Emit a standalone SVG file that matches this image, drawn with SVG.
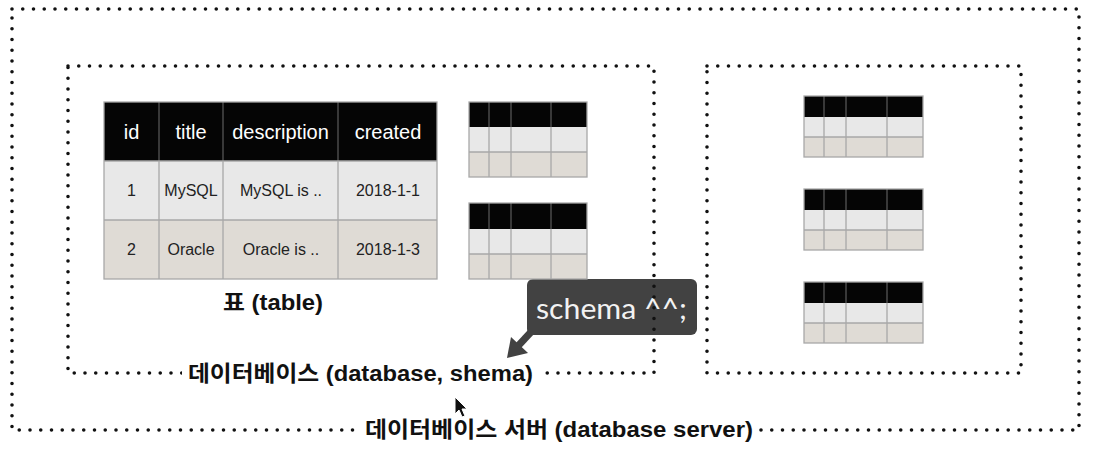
<svg xmlns="http://www.w3.org/2000/svg" width="1096" height="453" viewBox="0 0 1096 453">
<style>
.dot{fill:none;stroke:#111;stroke-width:3.6;stroke-linecap:round;stroke-dasharray:0 10.75}
.hd{fill:#050505}
.r1{fill:#e8e8e8}
.r2{fill:#dfdbd5}
.grid{fill:none;stroke:#a8a8a8;stroke-width:1.3}
.hgrid{stroke:#555;stroke-width:1.3}
.th{font-family:"Liberation Sans",Arial,sans-serif;font-size:20px;fill:#fff;text-anchor:middle}
.td{font-family:"Liberation Sans",Arial,sans-serif;font-size:16px;fill:#222;text-anchor:middle}
.lbl{font-family:"Liberation Sans","Noto Sans CJK KR",sans-serif;font-weight:bold;font-size:22px;fill:#111}
.mask{fill:#fff}
</style>

<g id="tooltip">
  <rect x="527" y="279" width="170" height="56" rx="6" fill="#424242"/>
  <text x="536" y="319" font-family="Lato,'Open Sans',sans-serif" font-size="28" fill="#f2f2f2" textLength="151" lengthAdjust="spacingAndGlyphs">schema ^^;</text>
</g>

<g id="server-box">
  <rect class="dot" x="12" y="9" width="1067" height="421"/>
</g>

<g id="database-box">
  <rect class="dot" x="68" y="66" width="586" height="307"/>
</g>

<g id="database-box-2">
  <rect class="dot" x="707" y="66" width="314" height="307"/>
</g>

<g id="main-table">
  <rect class="hd" x="104" y="102" width="333" height="59"/>
  <rect class="r1" x="104" y="161" width="333" height="59"/>
  <rect class="r2" x="104" y="220" width="333" height="59"/>
  <path class="grid hgrid" d="M159 102V161M223 102V161M338 102V161"/>
  <path class="grid" d="M104 161H437M104 220H437M159 161V279M223 161V279M338 161V279"/>
  <rect class="grid" x="104" y="102" width="333" height="177"/>
  <text class="th" x="131.5" y="139">id</text>
  <text class="th" x="191" y="139">title</text>
  <text class="th" x="280.5" y="139">description</text>
  <text class="th" x="388" y="139">created</text>
  <text class="td" x="131.5" y="196">1</text>
  <text class="td" x="191" y="196">MySQL</text>
  <text class="td" x="281" y="196">MySQL is ..</text>
  <text class="td" x="388" y="196">2018-1-1</text>
  <text class="td" x="131.5" y="255">2</text>
  <text class="td" x="191" y="255">Oracle</text>
  <text class="td" x="281" y="255">Oracle is ..</text>
  <text class="td" x="388" y="255">2018-1-3</text>
  <text class="lbl" x="223" y="310" textLength="100" lengthAdjust="spacingAndGlyphs">표 (table)</text>
</g>

<g id="small-table-1">
  <rect class="hd" x="469" y="102" width="118" height="25"/>
  <rect class="r1" x="469" y="127" width="118" height="25"/>
  <rect class="r2" x="469" y="152" width="118" height="25"/>
  <path class="grid hgrid" d="M489 102V127M511 102V127M551 102V127"/>
  <path class="grid" d="M469 152H587M489 127V177M511 127V177M551 127V177"/>
  <rect class="grid" x="469" y="102" width="118" height="75"/>
</g>

<g id="small-table-2">
  <rect class="hd" x="469" y="203" width="118" height="26"/>
  <rect class="r1" x="469" y="229" width="118" height="25"/>
  <rect class="r2" x="469" y="254" width="118" height="25"/>
  <path class="grid hgrid" d="M489 203V229M511 203V229M551 203V229"/>
  <path class="grid" d="M469 254H587M489 229V279M511 229V279M551 229V279"/>
  <rect class="grid" x="469" y="203" width="118" height="76"/>
</g>

<g id="small-table-3">
  <rect class="hd" x="804" y="96" width="119" height="21"/>
  <rect class="r1" x="804" y="117" width="119" height="20"/>
  <rect class="r2" x="804" y="137" width="119" height="20"/>
  <path class="grid hgrid" d="M824 96V117M846 96V117M887 96V117"/>
  <path class="grid" d="M804 137H923M824 117V157M846 117V157M887 117V157"/>
  <rect class="grid" x="804" y="96" width="119" height="61"/>
</g>

<g id="small-table-4">
  <rect class="hd" x="804" y="189" width="119" height="21"/>
  <rect class="r1" x="804" y="210" width="119" height="20"/>
  <rect class="r2" x="804" y="230" width="119" height="20"/>
  <path class="grid hgrid" d="M824 189V210M846 189V210M887 189V210"/>
  <path class="grid" d="M804 230H923M824 210V250M846 210V250M887 210V250"/>
  <rect class="grid" x="804" y="189" width="119" height="61"/>
</g>

<g id="small-table-5">
  <rect class="hd" x="804" y="282" width="119" height="21"/>
  <rect class="r1" x="804" y="303" width="119" height="20"/>
  <rect class="r2" x="804" y="323" width="119" height="20"/>
  <path class="grid hgrid" d="M824 282V303M846 282V303M887 282V303"/>
  <path class="grid" d="M804 323H923M824 303V343M846 303V343M887 303V343"/>
  <rect class="grid" x="804" y="282" width="119" height="61"/>
</g>

<g id="database-label">
  <rect class="mask" x="182" y="360" width="358" height="26"/>
  <text class="lbl" x="188" y="381" textLength="345" lengthAdjust="spacingAndGlyphs">데이터베이스 (database, shema)</text>
</g>

<g id="server-label">
  <rect class="mask" x="359" y="416" width="400" height="26"/>
  <text class="lbl" x="365" y="437" textLength="388" lengthAdjust="spacingAndGlyphs">데이터베이스 서버 (database server)</text>
</g>

<g id="connectors">
  <path d="M531 332L518 346" stroke="#424242" stroke-width="7" fill="none"/>
  <polygon points="507,358 511,337 528,353" fill="#424242"/>
</g>

<g id="cursor">
  <polygon points="455,397 455,414 459,410 462,417 465,416 462,409 467,409" fill="#111" stroke="#fff" stroke-width="1"/>
</g>
</svg>
